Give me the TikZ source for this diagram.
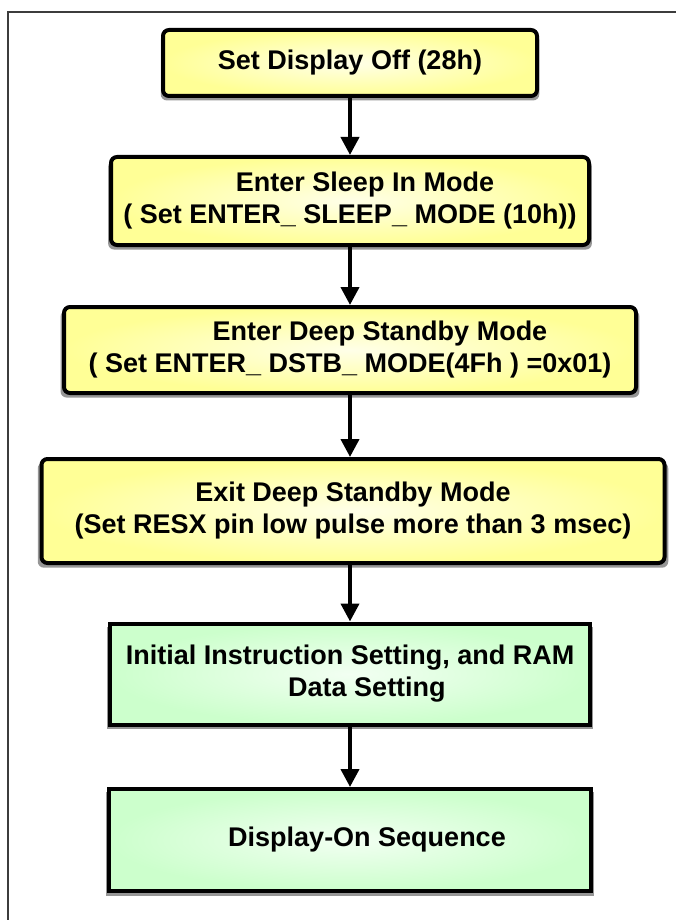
\documentclass[tikz,border=0pt]{standalone}
\usepackage{fontspec}
\setmainfont{Liberation Sans}
\usetikzlibrary{arrows.meta,shadows}
\definecolor{stepyellow}{RGB}{255,255,150}
\definecolor{stepyellowlight}{RGB}{255,255,232}
\definecolor{stepgreen}{RGB}{204,255,204}
\definecolor{stepgreenlight}{RGB}{242,255,242}
\definecolor{framegray}{RGB}{60,60,60}
\definecolor{shadowgray}{RGB}{150,150,150}

\tikzset{
  stepbox/.style={draw=black, line width=4pt, align=center, inner sep=0pt,
    font=\fontsize{27}{32}\selectfont\bfseries,
    drop shadow={shadow xshift=0pt, shadow yshift=-4pt, shadow scale=1.012,
      fill=shadowgray, opacity=1}},
  yellowbox/.style={stepbox, rounded corners=6pt, shading=radial,
    inner color=stepyellowlight, outer color=stepyellow},
  greenbox/.style={stepbox, shading=radial,
    inner color=stepgreenlight, outer color=stepgreen},
  flowarrow/.style={line width=4pt, -{Triangle[width=18pt,length=18pt]}}
}

\begin{document}
\begin{tikzpicture}[x=1pt, y=-1pt]
  \useasboundingbox (0,0) rectangle (676,920);
  \clip (0,0) rectangle (676,920);

  % Page frame
  \draw[framegray, line width=1.5pt] (8,12) rectangle (700,940);

  % Sleep-in steps
  \node[yellowbox, minimum width=374pt, minimum height=66pt] (dispoff) at (350,63)
    {Set Display Off (28h)};
  \node[yellowbox, minimum width=478pt, minimum height=88pt] (sleepin) at (350,201)
    {\hspace*{30pt}Enter Sleep In Mode\\( Set ENTER\_ SLEEP\_ MODE (10h))};
  \node[yellowbox, minimum width=572pt, minimum height=86pt] (dstbin) at (350,350)
    {\hspace*{60pt}Enter Deep Standby Mode\\( Set ENTER\_ DSTB\_ MODE(4Fh ) =0x01)};
  \node[yellowbox, minimum width=623pt, minimum height=104pt] (dstbout) at (353,511)
    {Exit Deep Standby Mode\\(Set RESX pin low pulse more than 3 msec)};

  % Restart steps
  \node[greenbox, minimum width=480pt, minimum height=101pt] (initset) at (350,674)
    {Initial Instruction Setting, and RAM\\\hspace*{34pt}Data Setting};
  \node[greenbox, minimum width=482pt, minimum height=102pt] (dispon) at (350,840)
    {\hspace*{34pt}Display-On Sequence};

  % Flow
  \draw[flowarrow] (dispoff.south) -- (sleepin.north);
  \draw[flowarrow] (sleepin.south) -- (dstbin.north);
  \draw[flowarrow] (dstbin.south) -- (dstbout.north -| dstbin.south);
  \draw[flowarrow] (dstbout.south -| initset.north) -- (initset.north);
  \draw[flowarrow] (initset.south) -- (dispon.north);
\end{tikzpicture}
\end{document}
